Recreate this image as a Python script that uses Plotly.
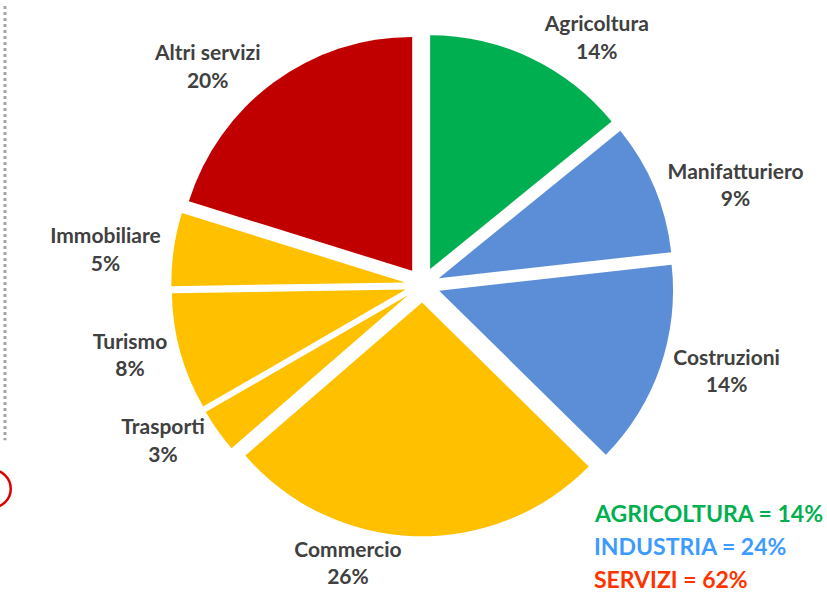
import plotly.graph_objects as go

settori = ['Agricoltura', 'Manifatturiero', 'Costruzioni', 'Commercio',
           'Trasporti', 'Turismo', 'Immobiliare', 'Altri servizi']
quote = [14, 9, 14, 26, 3, 8, 5, 20]
colori = ['#00B050', '#5B8ED6', '#5B8ED6', '#FFC000',
          '#FFC000', '#FFC000', '#FFC000', '#C00000']

riepilogo = ['AGRICOLTURA = 14%', 'INDUSTRIA = 24%', 'SERVIZI = 62%']
colori_riepilogo = ['#00B050', '#3D9BFF', '#FF3300']

fig = go.Figure()
fig.add_trace(go.Pie(
    labels=settori, values=quote, sort=False, direction='clockwise', rotation=0,
    marker=dict(colors=colori, line=dict(width=0)),
    pull=[0.075] * len(quote),
    texttemplate='%{label}<br>%{value}%', textposition='outside',
    textfont=dict(family='Lato', size=21, color='#404040', weight='bold'),
    showlegend=False,
    domain=dict(x=[0.207, 0.815], y=[0.096, 0.959]),
))

for i, (testo, col) in enumerate(zip(riepilogo, colori_riepilogo)):
    fig.add_annotation(text=testo, xref='paper', yref='paper',
                       x=0.716, y=0.149 - i * 0.055, xanchor='left', yanchor='middle',
                       showarrow=False,
                       font=dict(family='Lato', size=23, color=col, weight='bold'))

# bordo tratteggiato e cerchio rosso a sinistra
fig.add_shape(type='line', xref='paper', yref='paper', x0=0.006, x1=0.006, y0=0.99, y1=0.27,
              line=dict(color='#A6A6A6', width=3, dash='3px,3px'))
fig.add_shape(type='circle', xref='paper', yref='paper', x0=-0.033, x1=0.013, y0=0.158, y1=0.221,
              line=dict(color='#E00000', width=2.5))

fig.update_layout(width=827, height=603,
                  margin=dict(l=0, r=0, t=0, b=0, autoexpand=False),
                  paper_bgcolor='#FFFFFF', plot_bgcolor='#FFFFFF')
fig.write_html('out.html', config={'displayModeBar': False},
               post_script="document.body.style.margin='0px';")
